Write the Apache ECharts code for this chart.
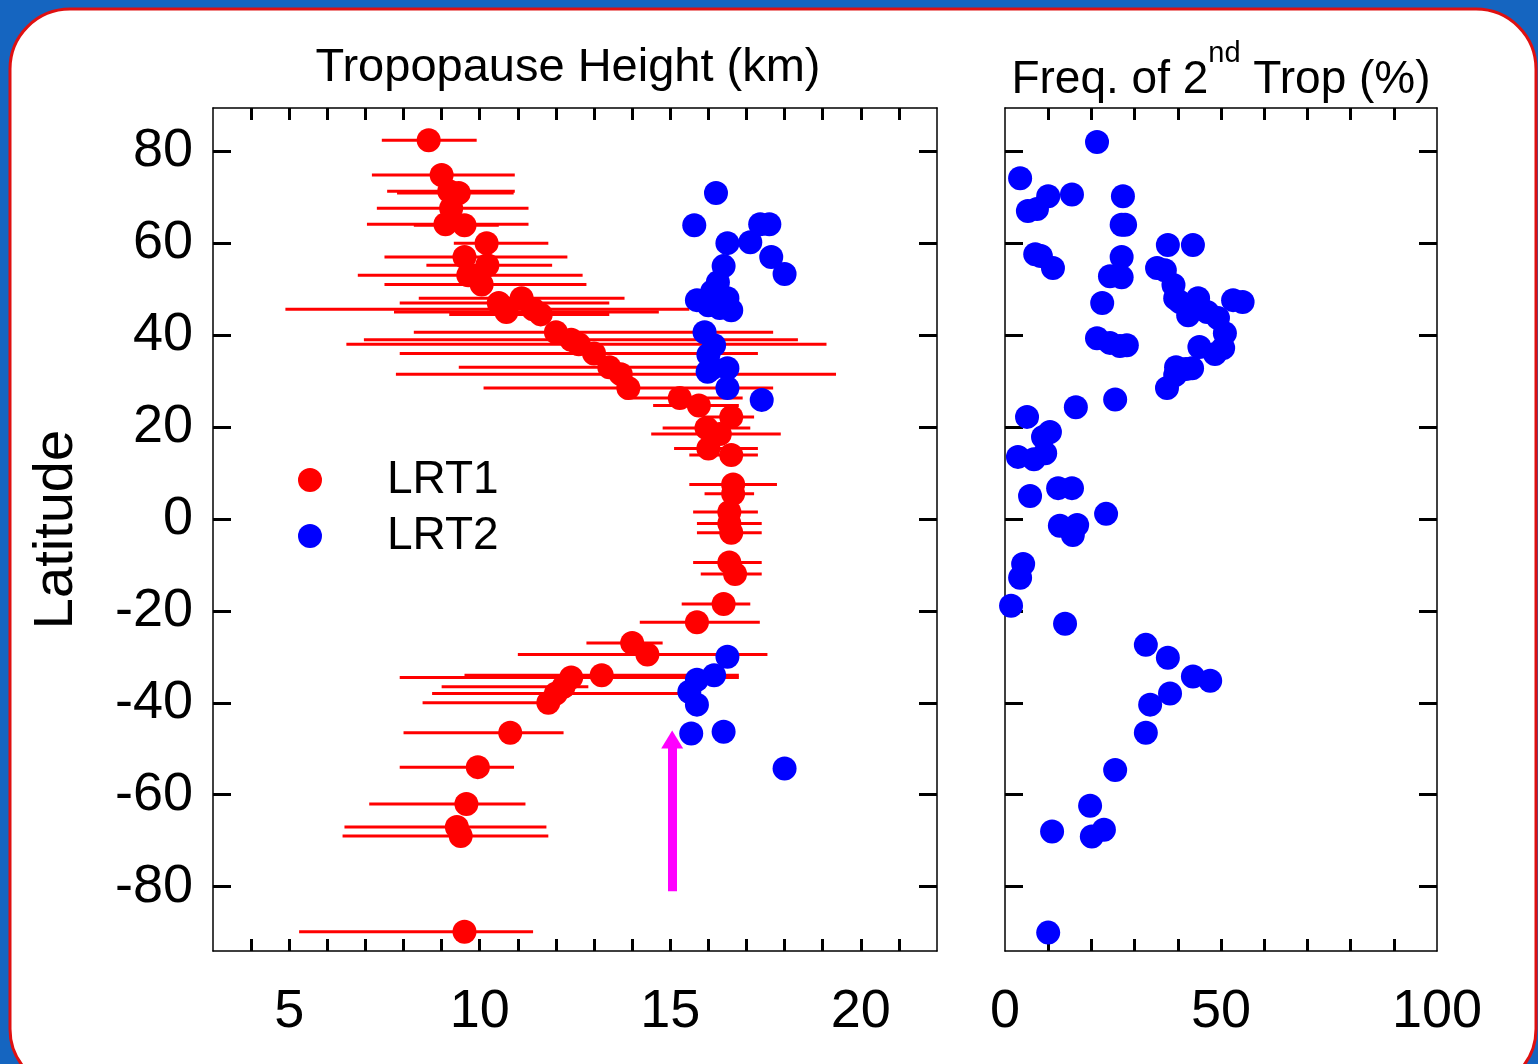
<!DOCTYPE html>
<html>
<head>
<meta charset="utf-8">
<script src="https://cdn.jsdelivr.net/npm/echarts@6/dist/echarts.min.js"></script>
<style>html,body{margin:0;padding:0;background:#1565c0}#c{width:1538px;height:1064px}</style>
</head>
<body>
<div id="c"></div>
<script>
// LRT1: [latitude, height km, low km, high km]
const lrt1 = [
  [82.4, 8.66, 7.43, 9.92], [74.8, 9.0, 7.17, 10.92], [71.3, 9.2, 7.57, 10.92], [70.9, 9.45, 7.83, 10.89],
  [67.6, 9.25, 7.3, 11.28], [64.1, 9.1, 7.04, 11.28], [63.9, 9.6, 8.27, 10.5], [60.0, 10.18, 9.32, 11.8],
  [57.0, 9.6, 7.5, 12.3], [55.2, 10.2, 8.6, 11.9], [53.0, 9.7, 6.8, 12.7], [51.0, 10.05, 7.5, 12.8],
  [47.0, 10.5, 7.9, 13.4], [48.0, 11.1, 8.4, 13.8], [45.6, 11.4, 4.9, 15.5], [45.0, 10.7, 7.75, 14.7],
  [44.5, 11.6, 9.2, 13.4], [40.6, 12.0, 8.27, 17.7], [39.0, 12.4, 6.96, 18.35], [38.0, 12.6, 6.5, 19.1],
  [36.0, 13.0, 7.9, 17.3], [33.0, 13.4, 9.45, 16.8], [31.5, 13.7, 7.8, 19.35], [28.5, 13.9, 10.1, 17.7],
  [26.3, 15.25, 13.8, 16.9], [24.7, 15.75, 14.55, 16.8], [22.2, 16.6, 15.86, 17.2], [19.8, 15.95, 14.8, 17.1],
  [18.5, 16.3, 14.5, 17.9], [15.3, 16.0, 15.1, 17.3], [13.9, 16.6, 15.5, 17.3], [7.5, 16.65, 15.5, 17.8],
  [5.5, 16.65, 15.9, 17.2], [1.5, 16.55, 15.6, 17.3], [-1, 16.55, 15.7, 17.4], [-3, 16.6, 15.7, 17.4],
  [-9.5, 16.55, 15.6, 17.4], [-12, 16.7, 15.8, 17.4], [-18.5, 16.4, 15.3, 17.1], [-22.5, 15.7, 14.2, 17.35],
  [-27, 14.0, 12.8, 14.8], [-29.5, 14.4, 11.0, 17.55], [-34, 13.2, 9.6, 16.8], [-34.5, 12.4, 7.9, 16.8],
  [-36.5, 12.2, 9.0, 12.85], [-38.0, 12.0, 8.75, 15.7], [-40.0, 11.8, 8.5, 11.7], [-46.5, 10.8, 8.0, 12.2],
  [-54, 9.95, 7.9, 10.9], [-62, 9.65, 7.1, 11.2], [-67, 9.4, 6.45, 11.75], [-69, 9.5, 6.4, 11.8],
  [-89.8, 9.6, 5.26, 11.4]
];
// LRT2: [height km, latitude]
const lrt2 = [
  [16.2, 70.9], [15.63, 63.9], [16.5, 60], [17.1, 60.2], [17.36, 64.1], [17.6, 64.1], [18.0, 53.3], [17.65, 57],
  [16.4, 55], [16.25, 51.5], [16.1, 49.5], [15.7, 47.6], [16.0, 46.5], [16.5, 48], [16.6, 45.4], [16.3, 45.9],
  [15.9, 40.6], [16.15, 37.8], [16.0, 35.7], [16.1, 32.8], [15.98, 32], [16.5, 32.8], [16.5, 28.5], [17.4, 25.9],
  [16.5, -30], [16.15, -34], [15.7, -35], [15.5, -37.6], [15.7, -40.4], [15.55, -46.7], [16.4, -46.3], [18.0, -54.3]
];
// frequency of 2nd tropopause: [percent, latitude]
const freq2 = [
  [21.3, 82], [3.5, 74.1], [10, 70.2], [15.5, 70.6], [27.3, 70.2], [5.3, 67], [7.4, 67.4], [27, 64], [27.8, 64],
  [37.7, 59.6], [43.5, 59.6], [7, 57.6], [8.3, 57.2], [27, 57], [11.1, 54.6], [24.3, 52.8], [27, 52.6], [35.2, 54.6],
  [37, 54.1], [39, 50.9], [39.4, 48], [22.5, 47], [44.7, 48], [40.5, 47.2], [52.8, 47.6], [55, 47.2], [42.4, 44.3],
  [46.8, 45], [49.3, 43.7], [50.9, 40.4], [21.3, 39.3], [24.3, 38.3], [26.6, 37.6], [28.2, 37.8], [45, 37.4],
  [50.5, 37.2], [48.6, 35.9], [39.6, 33], [41.9, 32.6], [43.3, 32.8], [39.4, 31.3], [37.5, 28.5], [25.5, 26],
  [16.4, 24.3], [5.1, 22.2], [10.4, 18.9], [8.8, 17.8], [3, 13.5], [6.7, 13], [9.3, 14.3], [12.3, 6.7], [15.5, 6.7],
  [5.8, 5], [23.4, 1.1], [12.7, -1.5], [16.7, -1.3], [15.7, -3.5], [4.2, -9.8], [3.5, -12.8], [1.4, -18.9],
  [13.9, -22.8], [32.6, -27.4], [37.7, -30.2], [43.5, -34.3], [47.5, -35.2], [33.6, -40.4], [38.2, -38],
  [32.6, -46.5], [25.5, -54.6], [19.7, -62.4], [22.9, -67.6], [20.1, -69.1], [10.9, -68], [10, -90]
];
const latTicks = [-80, -60, -40, -20, 0, 20, 40, 60, 80];
const kmLabels = [5, 10, 15, 20];
const kmTicks = [4, 5, 6, 7, 8, 9, 10, 11, 12, 13, 14, 15, 16, 17, 18, 19, 20, 21];
const pctLabels = [0, 50, 100];
const pctTicks = [10, 20, 30, 40, 50, 60, 70, 80, 90];
const arrow = [[15.05, -81], [15.05, -48]];

const font = 'Liberation Sans';
const chart = echarts.init(document.getElementById('c'));
const axLine = { show: true, onZero: false, lineStyle: { color: '#000', width: 1.5 } };
const tick = (vals, len) => ({ show: true, inside: true, length: len, lineStyle: { color: '#000', width: 3 }, customValues: vals });
const lab = (vals, m) => ({ show: true, fontSize: 54, color: '#000', fontFamily: font, margin: m, customValues: vals });

const yAxis = (gi, labels) => ({
  type: 'value', gridIndex: gi, min: -94, max: 89.4, position: 'left', splitLine: { show: false },
  axisLine: axLine, axisTick: tick(latTicks, 18),
  axisLabel: labels ? lab(latTicks, 20) : { show: false }
});
const yMirror = gi => ({
  type: 'value', gridIndex: gi, min: -94, max: 89.4, position: 'right', splitLine: { show: false },
  axisLine: axLine, axisTick: tick(latTicks, 18), axisLabel: { show: false }
});
const xAxis = (gi, min, max, ticks, labels, pos) => ({
  type: 'value', gridIndex: gi, min: min, max: max, position: pos, splitLine: { show: false },
  axisLine: axLine, axisTick: tick(ticks, 12),
  axisLabel: labels ? lab(labels, 34) : { show: false }
});

const option = {
  backgroundColor: '#1565c0',
  animation: false,
  graphic: [
    { type: 'rect', z: -10, shape: { x: 10, y: 9, width: 1526, height: 1080, r: 60 },
      style: { fill: '#fff', stroke: '#e01010', lineWidth: 3 } }
  ],
  title: [
    { text: 'Tropopause Height (km)', left: 563, top: 40, textAlign: 'center',
      textStyle: { fontSize: 47, fontWeight: 'normal', fontFamily: font, color: '#000' } },
    { text: '{a|Freq. of 2}{s|nd}{a| Trop (%)}', left: 1216, top: 34, textAlign: 'center',
      textStyle: { fontWeight: 'normal', rich: {
        a: { fontSize: 46, fontWeight: 'normal', fontFamily: font, color: '#000', verticalAlign: 'bottom', lineHeight: 64 },
        s: { fontSize: 29, fontWeight: 'normal', fontFamily: font, color: '#000', verticalAlign: 'top', lineHeight: 64 }
      } } }
  ],
  legend: {
    orient: 'vertical', left: 293, top: 452, itemGap: 10, itemWidth: 24, itemHeight: 24,
    data: [{ name: 'LRT1', icon: 'circle' }, { name: 'LRT2', icon: 'circle' }],
    textStyle: { fontSize: 46, fontFamily: font, color: '#000', padding: [0, 0, 0, 60] }
  },
  grid: [
    { left: 213, top: 108, width: 724, height: 843 },
    { left: 1005, top: 108, width: 432, height: 843 }
  ],
  xAxis: [
    xAxis(0, 3, 22, kmTicks, kmLabels, 'bottom'),
    xAxis(0, 3, 22, kmTicks, null, 'top'),
    xAxis(1, 0, 100, pctTicks, pctLabels, 'bottom'),
    xAxis(1, 0, 100, pctTicks, null, 'top')
  ],
  yAxis: [
    Object.assign(yAxis(0, true), { name: 'Latitude', nameLocation: 'middle', nameGap: 128,
      nameTextStyle: { fontSize: 56, fontFamily: font, color: '#000' } }),
    yMirror(0), yAxis(1, false), yMirror(1)
  ],
  series: [
    { type: 'custom', xAxisIndex: 0, yAxisIndex: 0, silent: true,
      data: lrt1.map(d => [d[2], d[3], d[0]]),
      encode: { x: [0, 1], y: 2 },
      renderItem: (params, api) => {
        const a = api.coord([api.value(0), api.value(2)]);
        const b = api.coord([api.value(1), api.value(2)]);
        return { type: 'line', shape: { x1: a[0], y1: a[1], x2: b[0], y2: b[1] },
          style: { stroke: '#ff0000', lineWidth: 3 } };
      } },
    { name: 'LRT1', type: 'scatter', xAxisIndex: 0, yAxisIndex: 0, symbolSize: 24, z: 3,
      itemStyle: { color: '#ff0000', opacity: 1 }, data: lrt1.map(d => [d[1], d[0]]) },
    { name: 'LRT2', type: 'scatter', xAxisIndex: 0, yAxisIndex: 0, symbolSize: 24, z: 4,
      itemStyle: { color: '#0000ff', opacity: 1 }, data: lrt2 },
    { type: 'line', xAxisIndex: 0, yAxisIndex: 0, data: arrow, showSymbol: false, silent: true,
      lineStyle: { width: 0 },
      markLine: { silent: true, symbol: ['none', 'triangle'], symbolSize: [22, 18], label: { show: false },
        lineStyle: { color: '#ff00ff', width: 9, type: 'solid' },
        data: [[{ coord: arrow[0] }, { coord: arrow[1] }]] } },
    { type: 'scatter', xAxisIndex: 2, yAxisIndex: 2, symbolSize: 24,
      itemStyle: { color: '#0000ff', opacity: 1 }, data: freq2 }
  ]
};
chart.setOption(option);
</script>
</body>
</html>
